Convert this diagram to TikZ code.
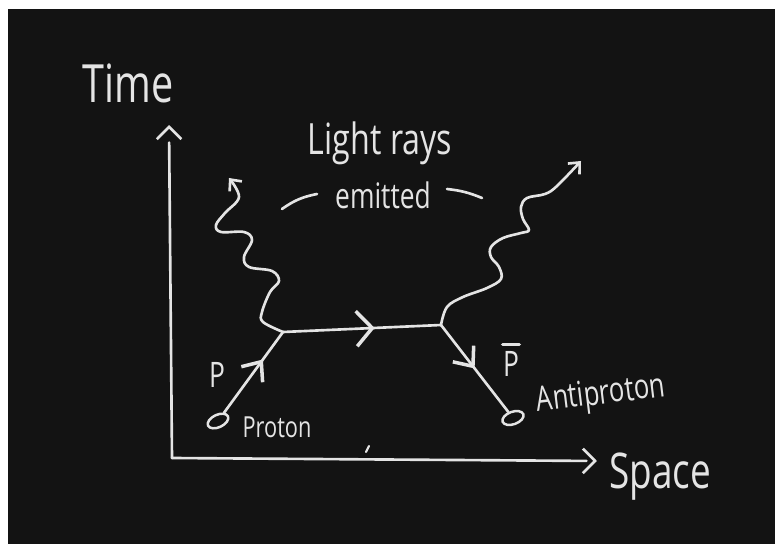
\documentclass[tikz,border=0pt]{standalone}
\usepackage{fontspec}
\newfontfamily\chalkfont[FakeStretch=0.75]{Open Sans}
\usepackage{tikz}
\usetikzlibrary{arrows.meta,shapes.geometric,decorations.markings}

\definecolor{board}{HTML}{131313}
\definecolor{chalk}{HTML}{E4E4E4}

\tikzset{
  line/.style={draw=chalk, line width=1.5pt, line cap=round, line join=round},
  particle/.style={ellipse, draw=chalk, line width=1.4pt, minimum width=0.44cm,
    minimum height=0.25cm, inner sep=0pt},
  chalktext/.style={text=chalk, inner sep=0pt},
  midarrow/.style 2 args={postaction={decorate, decoration={markings,
    mark=at position #1 with {\arrow[line width=2pt]{Straight Barb[length=9pt,width=#2]}}}}},
  axistip/.style={shorten >=#1, postaction={decorate, decoration={markings,
    mark=at position 1 with {\arrow{Straight Barb[length=7pt,width=14pt]}}}}},
  photon/.style={line, -{Straight Barb[length=5pt,width=9pt]}}
}

\begin{document}
\begin{tikzpicture}[x=0.02cm, y=-0.02cm]
  \useasboundingbox (0,0) rectangle (775,544);
  \fill[white] (0,0) rectangle (775,544);
  \fill[board] (8,9) rectangle (775,544);

  % Axis
  \coordinate (origin) at (172,458);
  \coordinate (timeEnd) at (169,125);
  \coordinate (spaceEnd) at (597,461);
  \draw[line, axistip=10pt] (origin) -- (timeEnd);
  \draw[line, axistip=6pt] (origin) -- (spaceEnd);
  \node[chalktext, anchor=base, font=\chalkfont\fontsize{30pt}{30pt}\selectfont] (time) at (128,103) {Time};
  \node[chalktext, anchor=base, font=\chalkfont\fontsize{28pt}{28pt}\selectfont] (space) at (660,488) {Space};
  \draw[line, line width=1.2pt] (366,452) -- (369,446);

  % Particles
  \node[particle, rotate=25] (proton) at (218,421) {};
  \node[particle, rotate=20] (antiproton) at (513,418) {};
  \coordinate (vL) at (283,332);
  \coordinate (vR) at (441,325);
  \draw[line, midarrow={0.66}{15pt}] (proton) -- (vL);
  \draw[line, midarrow={0.58}{20pt}] (vL) -- (vR);
  \draw[line, midarrow={0.5}{15pt}] (vR) -- (antiproton);

  % Light rays
  \coordinate (tipL) at (229,178);
  \coordinate (tipR) at (581,161);
  \draw[photon] plot[smooth, tension=0.6] coordinates {(vL) (263,322) (262,312) (270,292)
    (279,281) (272,271) (249,267) (244,257) (252,240) (244,232) (221,232) (216,225)
    (225,213) (239,197) (tipL)};
  \draw[photon] plot[smooth, tension=0.6] coordinates {(vR) (447,307) (463,297) (487,288)
    (501,279) (499,267) (491,257) (491,247) (503,238) (521,233) (529,230) (523,219)
    (521,207) (527,198) (545,194) (557,186) (tipR)};

  % Labels
  \node[chalktext, anchor=base, font=\chalkfont\fontsize{24.5pt}{25pt}\selectfont] (rays) at (380,154) {Light rays};
  \node[chalktext, anchor=base, font=\chalkfont\fontsize{20pt}{20pt}\selectfont] (emitted) at (383,209) {emitted};
  \draw[line] (282,209) to[bend left=12] (317,194);
  \draw[line] (447,189) to[bend left=8] (482,198);
  \node[chalktext, anchor=base, font=\chalkfont\fontsize{20pt}{20pt}\selectfont] (p) at (217,387) {P};
  \node[chalktext, anchor=base, font=\chalkfont\fontsize{20pt}{20pt}\selectfont] (pbar) at (511,377) {P};
  \draw[line, line width=2pt] ([yshift=4pt]pbar.north west) -- ([yshift=4pt]pbar.north east);
  \node[chalktext, anchor=base, font=\chalkfont\fontsize{16.5pt}{17pt}\selectfont] (protonlabel) at (277,437) {Proton};
  \node[chalktext, anchor=base, rotate=7, font=\chalkfont\fontsize{19.5pt}{20pt}\selectfont] (antilabel) at (602,404) {Antiproton};

\end{tikzpicture}
\end{document}
